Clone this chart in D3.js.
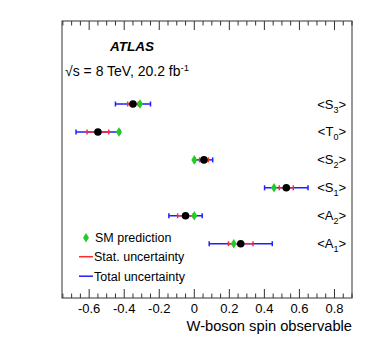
<!DOCTYPE html>
<html>
<head>
<meta charset="utf-8">
<script src="https://cdn.jsdelivr.net/npm/d3@7"></script>
<style>
  body { margin: 0; background: #fff; }
  text { font-family: "Liberation Sans", Arial, Helvetica, sans-serif; fill: #000; }
</style>
</head>
<body>
<div id="chart"></div>
<script>
let svgWidth = 374;
let svgHeight = 359;

// observables, top to bottom
let obsNames = ["S", "T", "S", "S", "A", "A"];
let obsSubs = ["3", "0", "2", "1", "2", "1"];
let measured = [-0.35, -0.55, 0.055, 0.525, -0.05, 0.265];
let statErr = [0.03, 0.062, 0.025, 0.04, 0.045, 0.07];
let totalErr = [0.10, 0.125, 0.05, 0.124, 0.095, 0.18];
let smPred = [-0.31, -0.43, 0.0, 0.455, 0.0, 0.225];
let xTicks = [-0.6, -0.4, -0.2, 0, 0.2, 0.4, 0.6, 0.8];

let mar = { top: 21, bottom: 61, left: 62, right: 22 };
let wdt = svgWidth - mar.left - mar.right;
let hgt = svgHeight - mar.top - mar.bottom;

let svg = d3.select("#chart").append("svg")
    .attr("width", svgWidth)
    .attr("height", svgHeight);
let chart = svg.append("g")
    .attr("transform", `translate(${mar.left}, ${mar.top})`);

let x = d3.scaleLinear().domain([-0.755, 0.9]).range([0, wdt]);
let y = d3.scalePoint().domain(d3.range(obsNames.length)).range([83, 222.7]);

let rows = obsNames.map((n, i) => ({
    name: n, sub: obsSubs[i], val: measured[i], stat: statErr[i],
    tot: totalErr[i], sm: smPred[i], i: i
}));

// frame
chart.append("rect")
    .attr("width", wdt).attr("height", hgt)
    .attr("fill", "none").attr("stroke", "#333").attr("stroke-width", 1);
chart.append("line")
    .attr("x1", wdt).attr("x2", wdt).attr("y1", 0).attr("y2", hgt)
    .attr("stroke", "#999").attr("stroke-width", 1.5);

// ticks: inward on bottom and top
let minor = d3.range(-0.75, 0.9001, 0.05).map(v => Math.round(v * 100) / 100);
[0, hgt].forEach(function (yy) {
    let dir = yy === 0 ? 1 : -1;
    chart.selectAll(null).data(minor).enter().append("line")
        .attr("x1", d => x(d)).attr("x2", d => x(d))
        .attr("y1", yy)
        .attr("y2", d => yy + dir * (xTicks.some(t => Math.abs(t - d) < 1e-6) ? 9 : 4.5))
        .attr("stroke", "#333").attr("stroke-width", 1);
});

chart.selectAll(".tickLabel").data(xTicks).enter().append("text")
    .attr("class", "tickLabel")
    .attr("x", d => x(d))
    .attr("y", hgt + 15)
    .attr("text-anchor", "middle")
    .attr("font-size", 13)
    .text(d => d === 0 ? "0" : d3.format(".1f")(d).replace("−", "-"));

chart.append("text")
    .attr("x", wdt)
    .attr("y", hgt + 33)
    .attr("text-anchor", "end")
    .attr("font-size", 14.7)
    .text("W-boson spin observable");

// error bars
function bar(cls, err, color) {
    let g = chart.selectAll("." + cls).data(rows).enter().append("g").attr("class", cls);
    g.append("line")
        .attr("x1", d => x(d.val - d[err])).attr("x2", d => x(d.val + d[err]))
        .attr("y1", d => y(d.i)).attr("y2", d => y(d.i))
        .attr("stroke", color).attr("stroke-width", 1.5);
    [-1, 1].forEach(function (s) {
        g.append("line")
            .attr("x1", d => x(d.val + s * d[err])).attr("x2", d => x(d.val + s * d[err]))
            .attr("y1", d => y(d.i) - 2.5).attr("y2", d => y(d.i) + 2.5)
            .attr("stroke", color).attr("stroke-width", 1.5);
    });
}
bar("tot", "tot", "#1f1fff");
bar("stat", "stat", "#ff2a2a");

chart.selectAll(".pt").data(rows).enter().append("circle")
    .attr("class", "pt")
    .attr("cx", d => x(d.val)).attr("cy", d => y(d.i))
    .attr("r", 3.8).attr("fill", "#000");

let diamond = "M0,-4.8 L3,0 L0,4.8 L-3,0 Z";
chart.selectAll(".sm").data(rows).enter().append("path")
    .attr("class", "sm")
    .attr("d", diamond)
    .attr("transform", d => `translate(${x(d.sm)}, ${y(d.i)})`)
    .attr("fill", "#22cc22");

// row labels
let lbl = chart.selectAll(".obs").data(rows).enter().append("text")
    .attr("class", "obs")
    .attr("x", wdt - 6)
    .attr("y", d => y(d.i) + 4.5)
    .attr("text-anchor", "end")
    .attr("font-size", 13);
lbl.append("tspan").text(d => "<" + d.name);
lbl.append("tspan").attr("font-size", 9).attr("dy", 4).text(d => d.sub);
lbl.append("tspan").attr("dy", -4).text(">");

// ATLAS labels
chart.append("text")
    .attr("x", 48).attr("y", 30)
    .attr("font-size", 13.5)
    .attr("font-weight", "bold").attr("font-style", "italic")
    .text("ATLAS");
let en = chart.append("text")
    .attr("x", 3).attr("y", 55)
    .attr("font-size", 14);
en.append("tspan").text("\u221As = 8 TeV, 20.2 fb");
en.append("tspan").attr("font-size", 9.5).attr("dy", -5.5).text("-1");

// legend
let leg = chart.append("g").attr("transform", "translate(0, 216.7)");
leg.append("path").attr("d", diamond).attr("transform", "translate(24, 0)").attr("fill", "#22cc22");
leg.append("text").attr("x", 33).attr("y", 4.5).attr("font-size", 12.5).text("SM prediction");
leg.append("line").attr("x1", 17).attr("x2", 31).attr("y1", 19).attr("y2", 19)
    .attr("stroke", "#ff2a2a").attr("stroke-width", 1.5);
leg.append("text").attr("x", 32).attr("y", 23.5).attr("font-size", 12.5).text("Stat. uncertainty");
leg.append("line").attr("x1", 17).attr("x2", 31).attr("y1", 38.5).attr("y2", 38.5)
    .attr("stroke", "#1f1fff").attr("stroke-width", 1.5);
leg.append("text").attr("x", 32).attr("y", 43).attr("font-size", 12.5).text("Total uncertainty");
</script>
</body>
</html>
